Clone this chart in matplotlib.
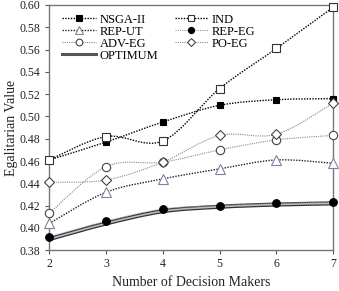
import numpy as np
import matplotlib
matplotlib.use("Agg")
import matplotlib.pyplot as plt
from matplotlib.path import Path
from matplotlib.patches import PathPatch
from matplotlib.lines import Line2D

plt.rcParams['font.family'] = ['Liberation Serif', 'DejaVu Serif']

dms = [2, 3, 4, 5, 6, 7]
nsga = [0.461, 0.477, 0.495, 0.510, 0.515, 0.516]
ind = [0.461, 0.482, 0.478, 0.525, 0.561, 0.598]
rep_ut = [0.404, 0.432, 0.444, 0.453, 0.461, 0.458]
rep_eg = [0.392, 0.406, 0.417, 0.420, 0.422, 0.423]
adv_eg = [0.413, 0.455, 0.459, 0.470, 0.479, 0.483]
po_eg = [0.441, 0.443, 0.459, 0.483, 0.484, 0.512]
optimum = [0.390, 0.404, 0.415, 0.419, 0.421, 0.422]


def smooth_path(x, y):
    # excel-like smoothed line: bezier through the data points
    x = np.asarray(x, float)
    y = np.asarray(y, float)
    n = len(x)
    verts = [(x[0], y[0])]
    codes = [Path.MOVETO]
    for i in range(n - 1):
        p0 = np.array([x[max(i - 1, 0)], y[max(i - 1, 0)]])
        p1 = np.array([x[i], y[i]])
        p2 = np.array([x[i + 1], y[i + 1]])
        p3 = np.array([x[min(i + 2, n - 1)], y[min(i + 2, n - 1)]])
        c1 = p1 + (p2 - p0) / 6
        c2 = p2 - (p3 - p1) / 6
        verts += [tuple(c1), tuple(c2), tuple(p2)]
        codes += [Path.CURVE4] * 3
    return Path(verts, codes)


fig = plt.figure(figsize=(3.39, 2.91), dpi=100)
ax = fig.add_axes([0.145, 0.14, 0.838, 0.843])

series = [
    (nsga, dict(color='black', ls=(0, (1, 1)), lw=1.0), dict(marker='s', mfc='black', mec='black', ms=5)),
    (ind, dict(color='black', ls=(0, (1, 1)), lw=1.0), dict(marker='s', mfc='white', mec='#333333', ms=6)),
    (rep_ut, dict(color='#222222', ls=(0, (1, 1)), lw=1.0), dict(marker='^', mfc='white', mec='#8080a8', ms=7)),
    (rep_eg, dict(color='#999999', ls=(0, (1, 1)), lw=0.8), dict(marker='o', mfc='black', mec='black', ms=5.5)),
    (adv_eg, dict(color='#888888', ls=(0, (1, 1)), lw=0.8), dict(marker='o', mfc='white', mec='#444444', ms=6)),
    (po_eg, dict(color='#888888', ls=(0, (1, 1)), lw=0.8), dict(marker='D', mfc='white', mec='#444444', ms=5.5)),
]

# optimum: double line
for lw, c in [(3.0, '#333333'), (1.2, '#bbbbbb')]:
    ax.add_patch(PathPatch(smooth_path(dms, optimum), fill=False, lw=lw, color=c, zorder=2))

for ys, lstyle, mstyle in series:
    ax.add_patch(PathPatch(smooth_path(dms, ys), fill=False, edgecolor=lstyle['color'],
                           ls=lstyle['ls'], lw=lstyle['lw'], zorder=3))
    ax.plot(dms, ys, ls='none', zorder=4, mew=0.8, clip_on=False, **mstyle)

ax.set_xlim(2, 7)
ax.set_ylim(0.38, 0.60)
ax.set_xticks(dms)
ax.set_yticks(np.arange(0.38, 0.601, 0.02))
ax.yaxis.set_major_formatter(plt.FormatStrFormatter('%.2f'))
ax.tick_params(labelsize=8.5, length=3, color='#555555', labelcolor='#222222', direction='out')
ax.tick_params(axis='x', pad=2.5)
for s in ax.spines.values():
    s.set_color('#777777')
    s.set_linewidth(1.0)

ax.set_xlabel('Number of Decision Makers', fontsize=10, labelpad=4.5, color='#222222')
ax.set_ylabel('Egalitarian Value', fontsize=10, labelpad=1, color='#222222')


def handle(lstyle, mstyle):
    return Line2D([], [], color=lstyle['color'], ls=lstyle['ls'], lw=lstyle['lw'], mew=0.8, **mstyle)


names = ['NSGA-II', 'IND', 'REP-UT', 'REP-EG', 'ADV-EG', 'PO-EG']
handles = [handle(l, m) for _, l, m in series]
opt_h = Line2D([], [], color='#555555', lw=2.2)
# matplotlib fills legend columns first; reference reads row by row
order = [0, 2, 4]
h = [handles[i] for i in order] + [opt_h] + [handles[i] for i in [1, 3, 5]]
lab = [names[i] for i in order] + ['OPTIMUM'] + [names[i] for i in [1, 3, 5]]
ax.legend(h, lab, ncol=2, loc='upper left', bbox_to_anchor=(0.015, 1.0), frameon=False,
          fontsize=9, handlelength=2.7, handletextpad=0.3, columnspacing=1.3,
          labelspacing=0.0, borderaxespad=0.3, markerscale=0.8)

plt.savefig('out.png', dpi=100)
